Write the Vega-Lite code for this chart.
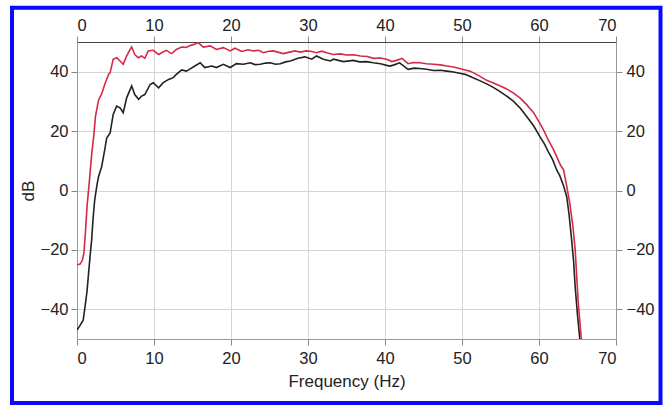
{
  "$schema": "https://vega.github.io/schema/vega-lite/v6.json",
  "width": 539,
  "height": 297,
  "autosize": "none",
  "padding": {"left": 77, "top": 42, "right": 52, "bottom": 66},
  "background": "white",
  "config": {
    "font": "Liberation Sans",
    "view": {"stroke": null},
    "axis": {
      "labelFont": "Liberation Sans",
      "titleFont": "Liberation Sans",
      "labelFontSize": 16.5,
      "titleFontSize": 17,
      "titleFontWeight": "normal",
      "labelColor": "#222",
      "titleColor": "#222",
      "domainColor": "#999",
      "tickColor": "#888",
      "tickSize": 6,
      "labelPadding": 3,
      "gridColor": "#d4d4d4",
      "gridWidth": 1
    }
  },
  "data": {
    "values": [
      {"s":"red","f":0,"v":-25},{"s":"red","f":0.4,"v":-24.8},{"s":"red","f":0.7,"v":-23.5},{"s":"red","f":0.9,"v":-21},{"s":"red","f":1.1,"v":-14},{"s":"red","f":1.3,"v":-5.5},{"s":"red","f":1.6,"v":3},{"s":"red","f":1.9,"v":12},{"s":"red","f":2.2,"v":19},{"s":"red","f":2.4,"v":25},{"s":"red","f":2.8,"v":30.5},{"s":"red","f":3.2,"v":32.5},{"s":"red","f":3.6,"v":35.7},{"s":"red","f":4.1,"v":39.1},{"s":"red","f":4.3,"v":39.7},{"s":"red","f":4.7,"v":44.2},{"s":"red","f":5.15,"v":44.7},{"s":"red","f":5.6,"v":43.6},{"s":"red","f":6.0,"v":42.5},{"s":"red","f":6.45,"v":45.3},{"s":"red","f":6.9,"v":47.5},{"s":"red","f":7.1,"v":48.3},{"s":"red","f":7.5,"v":45.8},{"s":"red","f":7.96,"v":44.7},{"s":"red","f":8.4,"v":45.3},{"s":"red","f":8.8,"v":44.5},{"s":"red","f":9.26,"v":47},{"s":"red","f":9.9,"v":47.2},{"s":"red","f":10.6,"v":45.8},{"s":"red","f":11,"v":46.4},{"s":"red","f":11.6,"v":47.2},{"s":"red","f":12.3,"v":46.1},{"s":"red","f":12.9,"v":47.5},{"s":"red","f":13.6,"v":48.3},{"s":"red","f":14.2,"v":48.2},{"s":"red","f":14.6,"v":48.7},{"s":"red","f":15.2,"v":49.2},{"s":"red","f":15.75,"v":49.8},{"s":"red","f":16.4,"v":48.3},{"s":"red","f":17.3,"v":48.7},{"s":"red","f":18.1,"v":47.5},{"s":"red","f":19,"v":48.1},{"s":"red","f":19.9,"v":47},{"s":"red","f":20.5,"v":47.9},{"s":"red","f":21.4,"v":46.8},{"s":"red","f":22.2,"v":47.4},{"s":"red","f":22.9,"v":47},{"s":"red","f":23.6,"v":47.2},{"s":"red","f":24.2,"v":46.4},{"s":"red","f":24.9,"v":46.9},{"s":"red","f":25.5,"v":47},{"s":"red","f":26.2,"v":46.5},{"s":"red","f":26.8,"v":46.1},{"s":"red","f":27.6,"v":46.6},{"s":"red","f":28.3,"v":47},{"s":"red","f":29.0,"v":46.6},{"s":"red","f":29.8,"v":47},{"s":"red","f":30.5,"v":46.8},{"s":"red","f":31.1,"v":46.4},{"s":"red","f":31.8,"v":46.9},{"s":"red","f":32.4,"v":46.4},{"s":"red","f":33.3,"v":45.8},{"s":"red","f":34.2,"v":46},{"s":"red","f":35,"v":45.6},{"s":"red","f":35.9,"v":45.7},{"s":"red","f":36.8,"v":45.3},{"s":"red","f":37.7,"v":45.1},{"s":"red","f":38.5,"v":44.5},{"s":"red","f":39.4,"v":44.6},{"s":"red","f":40.2,"v":44.2},{"s":"red","f":40.9,"v":43.4},{"s":"red","f":41.6,"v":43.9},{"s":"red","f":42.2,"v":44.5},{"s":"red","f":43,"v":42.7},{"s":"red","f":43.7,"v":43.1},{"s":"red","f":44.5,"v":43.0},{"s":"red","f":45.4,"v":42.7},{"s":"red","f":46.3,"v":42.5},{"s":"red","f":47.2,"v":42.3},{"s":"red","f":48,"v":41.9},{"s":"red","f":48.9,"v":41.6},{"s":"red","f":49.7,"v":41.1},{"s":"red","f":50.4,"v":40.6},{"s":"red","f":51,"v":40.2},{"s":"red","f":51.5,"v":39.6},{"s":"red","f":52.3,"v":38.5},{"s":"red","f":53.2,"v":37.1},{"s":"red","f":54,"v":36.3},{"s":"red","f":54.9,"v":35.3},{"s":"red","f":55.8,"v":34.2},{"s":"red","f":56.7,"v":32.8},{"s":"red","f":57.6,"v":31},{"s":"red","f":58.4,"v":28.9},{"s":"red","f":59.3,"v":26.2},{"s":"red","f":60.1,"v":22.7},{"s":"red","f":60.7,"v":19.8},{"s":"red","f":61.2,"v":17},{"s":"red","f":61.8,"v":14.2},{"s":"red","f":62.3,"v":11.4},{"s":"red","f":62.8,"v":8.5},{"s":"red","f":63.2,"v":6.9},{"s":"red","f":63.6,"v":1.5},{"s":"red","f":64,"v":-4.3},{"s":"red","f":64.4,"v":-12},{"s":"red","f":64.7,"v":-20},{"s":"red","f":64.9,"v":-29},{"s":"red","f":65.1,"v":-38},{"s":"red","f":65.3,"v":-44},{"s":"red","f":65.5,"v":-50},
      {"s":"black","f":0,"v":-47},{"s":"black","f":0.4,"v":-45.4},{"s":"black","f":0.8,"v":-43.7},{"s":"black","f":1.04,"v":-39.2},{"s":"black","f":1.3,"v":-34},{"s":"black","f":1.5,"v":-28},{"s":"black","f":1.7,"v":-22},{"s":"black","f":1.9,"v":-16.7},{"s":"black","f":2.1,"v":-9},{"s":"black","f":2.3,"v":-3.2},{"s":"black","f":2.6,"v":2},{"s":"black","f":2.8,"v":4.7},{"s":"black","f":3.2,"v":8},{"s":"black","f":3.6,"v":13.7},{"s":"black","f":3.86,"v":17.7},{"s":"black","f":4.3,"v":19.4},{"s":"black","f":4.7,"v":25.6},{"s":"black","f":5.15,"v":28.4},{"s":"black","f":5.6,"v":27.8},{"s":"black","f":6.0,"v":26.2},{"s":"black","f":6.45,"v":31.2},{"s":"black","f":7.1,"v":35.2},{"s":"black","f":7.5,"v":32.3},{"s":"black","f":8.0,"v":30.7},{"s":"black","f":8.4,"v":31.8},{"s":"black","f":8.8,"v":32.3},{"s":"black","f":9.5,"v":35.7},{"s":"black","f":9.9,"v":36.3},{"s":"black","f":10.6,"v":34.6},{"s":"black","f":11.2,"v":36.3},{"s":"black","f":11.9,"v":37.4},{"s":"black","f":12.5,"v":38},{"s":"black","f":12.9,"v":39.1},{"s":"black","f":13.6,"v":40.6},{"s":"black","f":14.2,"v":40.2},{"s":"black","f":14.6,"v":40.8},{"s":"black","f":15.3,"v":41.9},{"s":"black","f":16,"v":43},{"s":"black","f":16.6,"v":41.4},{"s":"black","f":17.5,"v":41.9},{"s":"black","f":18.1,"v":41.4},{"s":"black","f":19,"v":42.5},{"s":"black","f":19.9,"v":41.4},{"s":"black","f":20.7,"v":42.7},{"s":"black","f":21.6,"v":42.5},{"s":"black","f":22.5,"v":43},{"s":"black","f":23.1,"v":42.4},{"s":"black","f":23.8,"v":42.5},{"s":"black","f":24.5,"v":42.9},{"s":"black","f":25.1,"v":43},{"s":"black","f":25.8,"v":42.5},{"s":"black","f":26.4,"v":42.7},{"s":"black","f":27.1,"v":43.3},{"s":"black","f":27.7,"v":43.6},{"s":"black","f":28.7,"v":44.5},{"s":"black","f":29.6,"v":45},{"s":"black","f":30.5,"v":44.2},{"s":"black","f":31.1,"v":45.3},{"s":"black","f":32,"v":44.2},{"s":"black","f":32.9,"v":43.6},{"s":"black","f":33.3,"v":44.2},{"s":"black","f":34.6,"v":43.4},{"s":"black","f":35.9,"v":43.8},{"s":"black","f":36.7,"v":43.3},{"s":"black","f":37.6,"v":43.4},{"s":"black","f":38.5,"v":43},{"s":"black","f":39.4,"v":42.7},{"s":"black","f":40.6,"v":41.9},{"s":"black","f":41.2,"v":42.3},{"s":"black","f":41.9,"v":43},{"s":"black","f":43,"v":40.8},{"s":"black","f":43.8,"v":41.2},{"s":"black","f":44.5,"v":41.1},{"s":"black","f":45.4,"v":40.8},{"s":"black","f":46.3,"v":40.4},{"s":"black","f":47.2,"v":40.5},{"s":"black","f":48,"v":40.2},{"s":"black","f":48.9,"v":39.9},{"s":"black","f":49.7,"v":39.5},{"s":"black","f":50.4,"v":39.1},{"s":"black","f":51,"v":38.5},{"s":"black","f":51.5,"v":37.9},{"s":"black","f":52.3,"v":37},{"s":"black","f":53.2,"v":35.9},{"s":"black","f":54,"v":34.8},{"s":"black","f":54.9,"v":33.4},{"s":"black","f":55.8,"v":31.8},{"s":"black","f":56.7,"v":30},{"s":"black","f":57.6,"v":27.6},{"s":"black","f":58.4,"v":24.9},{"s":"black","f":59.3,"v":21.8},{"s":"black","f":60.1,"v":18.2},{"s":"black","f":60.7,"v":15.7},{"s":"black","f":61.2,"v":13.1},{"s":"black","f":61.8,"v":10.2},{"s":"black","f":62.3,"v":6.9},{"s":"black","f":62.7,"v":5},{"s":"black","f":63.2,"v":1.5},{"s":"black","f":63.6,"v":-2.1},{"s":"black","f":63.9,"v":-8},{"s":"black","f":64.2,"v":-15.6},{"s":"black","f":64.5,"v":-24},{"s":"black","f":64.7,"v":-32.5},{"s":"black","f":65.0,"v":-42},{"s":"black","f":65.3,"v":-50}
    ]
  },
  "layer": [
    {
      "transform": [{"filter": "datum.s === 'black'"}],
      "mark": {"type": "line", "color": "#222222", "strokeWidth": 1.6, "clip": true},
      "encoding": {
        "x": {"field": "f", "type": "quantitative", "scale": {"domain": [0, 70], "nice": false, "zero": false},
              "axis": {"orient": "bottom", "title": "Frequency (Hz)", "values": [0,10,20,30,40,50,60,70], "grid": true, "labelPadding": 5, "titlePadding": 7}},
        "y": {"field": "v", "type": "quantitative", "scale": {"domain": [-50, 50], "nice": false, "zero": false},
              "axis": {"orient": "left", "title": "dB", "values": [-40,-20,0,20,40], "grid": true, "labelPadding": 3, "titlePadding": 3, "labelExpr": "replace(datum.label, '-', '\u2212')"}}
      }
    },
    {
      "transform": [{"filter": "datum.s === 'red'"}],
      "mark": {"type": "line", "color": "#d42a47", "strokeWidth": 1.6, "clip": true},
      "encoding": {
        "x": {"field": "f", "type": "quantitative",
              "axis": {"orient": "top", "title": null, "values": [0,10,20,30,40,50,60,70], "grid": false, "labelPadding": 3, "domainColor": "#444"}},
        "y": {"field": "v", "type": "quantitative",
              "axis": {"orient": "right", "title": null, "values": [-40,-20,0,20,40], "grid": false, "labelPadding": 4, "labelExpr": "replace(datum.label, '-', '\u2212')"}}
      }
    },
    {
      "data": {"values": [{}]},
      "mark": {"type": "rect", "fill": null, "filled": false, "stroke": "#0a0aff", "strokeWidth": 4, "clip": false},
      "encoding": {
        "x": {"datum": -8.44, "type": "quantitative", "axis": null},
        "x2": {"datum": 75.78},
        "y": {"datum": 61.5, "type": "quantitative", "axis": null},
        "y2": {"datum": -71.56}
      }
    }
  ],
  "resolve": {"axis": {"x": "independent", "y": "independent"}}
}
